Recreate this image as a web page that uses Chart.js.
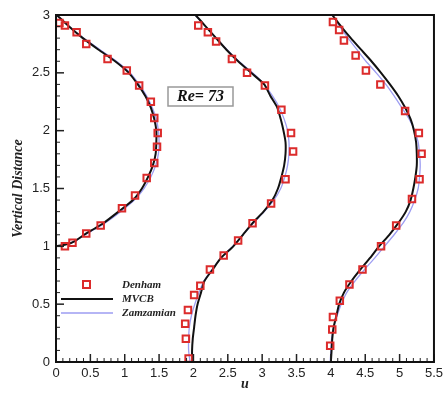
<!DOCTYPE html>
<html>
<head>
<meta charset="utf-8">
<script src="https://cdn.jsdelivr.net/npm/chart.js@4.4.1/dist/chart.umd.min.js"></script>
<style>
  html, body { margin: 0; padding: 0; background: #fff; }
  #wrap { position: relative; width: 447px; height: 393px; }
</style>
</head>
<body>
<div id="wrap"><canvas id="chart"></canvas></div>
<script>
// Denham (markers), three profiles
const denhamU1 = [0.05, 0.13, 0.30, 0.44, 0.75, 1.03, 1.21, 1.38, 1.43, 1.48, 1.47, 1.43, 1.32, 1.15, 0.96, 0.65, 0.44, 0.24, 0.13];
const denhamY1 = [2.93, 2.91, 2.85, 2.75, 2.62, 2.52, 2.39, 2.25, 2.11, 1.98, 1.86, 1.72, 1.59, 1.44, 1.33, 1.18, 1.11, 1.03, 1.00];
const denhamU2 = [2.07, 2.21, 2.33, 2.56, 2.78, 3.04, 3.28, 3.42, 3.45, 3.34, 3.13, 2.86, 2.65, 2.44, 2.24, 2.10, 2.01, 1.92, 1.88, 1.89, 1.93];
const denhamY2 = [2.91, 2.85, 2.77, 2.62, 2.50, 2.39, 2.18, 1.98, 1.82, 1.58, 1.37, 1.20, 1.05, 0.92, 0.80, 0.66, 0.58, 0.45, 0.33, 0.20, 0.03];
const denhamU3 = [4.03, 4.12, 4.19, 4.36, 4.51, 4.72, 5.08, 5.28, 5.32, 5.29, 5.18, 4.95, 4.73, 4.46, 4.27, 4.13, 4.03, 4.02, 3.99];
const denhamY3 = [2.94, 2.87, 2.78, 2.65, 2.52, 2.40, 2.17, 1.98, 1.80, 1.58, 1.41, 1.18, 1.00, 0.80, 0.67, 0.53, 0.39, 0.28, 0.14];

// MVCB and Zamzamian curves
const heights1 = [1.0, 1.02, 1.05, 1.1, 1.15, 1.2, 1.3, 1.4, 1.5, 1.6, 1.7, 1.8, 1.9, 2.0, 2.1, 2.2, 2.3, 2.4, 2.5, 2.6, 2.7, 2.8, 2.9, 3.0];
const mvcbU1 = [0, 0.17, 0.29, 0.41, 0.55, 0.69, 0.91, 1.12, 1.25, 1.34, 1.41, 1.45, 1.46, 1.46, 1.43, 1.38, 1.30, 1.19, 1.06, 0.86, 0.62, 0.39, 0.19, 0.01];
const zamU1  = [0, 0.16, 0.29, 0.42, 0.57, 0.71, 0.94, 1.14, 1.28, 1.38, 1.45, 1.49, 1.50, 1.49, 1.46, 1.40, 1.32, 1.21, 1.08, 0.88, 0.64, 0.40, 0.19, 0.01];

const heights = [0, 0.1, 0.2, 0.3, 0.4, 0.5, 0.6, 0.7, 0.8, 0.9, 1.0, 1.1, 1.2, 1.3, 1.4, 1.5, 1.6, 1.7, 1.8, 1.9, 2.0, 2.1, 2.2, 2.3, 2.4, 2.5, 2.6, 2.7, 2.8, 2.9, 3.0];
const mvcbU2 = [1.98, 1.98, 1.99, 2.01, 2.03, 2.06, 2.11, 2.16, 2.28, 2.40, 2.58, 2.72, 2.86, 3.02, 3.15, 3.23, 3.28, 3.32, 3.34, 3.34, 3.31, 3.27, 3.22, 3.12, 3.03, 2.84, 2.65, 2.48, 2.33, 2.18, 2.03];
const zamU2  = [1.95, 1.93, 1.93, 1.94, 1.97, 2.02, 2.08, 2.15, 2.27, 2.40, 2.57, 2.72, 2.87, 3.03, 3.17, 3.27, 3.33, 3.37, 3.39, 3.39, 3.37, 3.32, 3.25, 3.15, 3.03, 2.86, 2.66, 2.49, 2.33, 2.18, 2.02];
const mvcbU3 = [4.00, 4.01, 4.02, 4.04, 4.08, 4.12, 4.19, 4.30, 4.43, 4.57, 4.70, 4.85, 4.98, 5.09, 5.16, 5.20, 5.23, 5.25, 5.25, 5.24, 5.21, 5.16, 5.08, 4.98, 4.86, 4.73, 4.59, 4.44, 4.29, 4.15, 4.02];
const zamU3  = [3.99, 4.00, 4.01, 4.04, 4.09, 4.15, 4.23, 4.35, 4.49, 4.64, 4.78, 4.92, 5.05, 5.15, 5.22, 5.27, 5.29, 5.30, 5.29, 5.27, 5.22, 5.14, 5.03, 4.92, 4.80, 4.66, 4.51, 4.38, 4.25, 4.13, 4.02];

const xTicks = [0, 0.5, 1, 1.5, 2, 2.5, 3, 3.5, 4, 4.5, 5, 5.5];
const yTicks = [0, 0.5, 1, 1.5, 2, 2.5, 3];

const pts = (us, ys) => us.map((u, i) => ({ x: u, y: ys[i] }));

const markerStyle = {
  showLine: false,
  pointStyle: 'rect',
  pointRadius: 4.6,
  pointBorderWidth: 2,
  pointBorderColor: '#dc2b2b',
  pointBackgroundColor: 'rgba(0,0,0,0)',
  order: 0
};
const blackLine = { showLine: true, borderColor: '#111', borderWidth: 2, pointRadius: 0, tension: 0.2, order: 1 };
const blueLine = { showLine: true, borderColor: '#9d9df2', borderWidth: 1.3, pointRadius: 0, tension: 0.2, order: 2 };

// ticks inside the frame, legend and Re label
const decorations = {
  id: 'decorations',
  afterDraw(chart) {
    const { ctx, chartArea: a, scales: { x, y } } = chart;
    ctx.save();
    ctx.strokeStyle = '#222';
    for (let i = 0; i <= 55; i++) {
      const px = x.getPixelForValue(i / 10);
      const major = i % 5 === 0;
      ctx.lineWidth = major ? 1.5 : 1;
      ctx.beginPath();
      ctx.moveTo(px, a.bottom);
      ctx.lineTo(px, a.bottom - (major ? 8 : 4));
      ctx.stroke();
    }
    for (let i = 0; i <= 30; i++) {
      const py = y.getPixelForValue(i / 10);
      const major = i % 5 === 0;
      ctx.lineWidth = major ? 1.5 : 1;
      ctx.beginPath();
      ctx.moveTo(a.left, py);
      ctx.lineTo(a.left + (major ? 8 : 4), py);
      ctx.stroke();
    }
    ctx.lineWidth = 2;
    ctx.strokeStyle = '#111';
    ctx.strokeRect(a.left, a.top, a.right - a.left, a.bottom - a.top);

    // legend
    ctx.strokeStyle = '#dc2b2b';
    ctx.lineWidth = 2;
    ctx.strokeRect(83, 281, 7, 7);
    ctx.strokeStyle = '#111';
    ctx.lineWidth = 2;
    ctx.beginPath(); ctx.moveTo(61, 299); ctx.lineTo(113, 299); ctx.stroke();
    ctx.strokeStyle = '#9d9df2';
    ctx.lineWidth = 1.5;
    ctx.beginPath(); ctx.moveTo(61, 313); ctx.lineTo(113, 313); ctx.stroke();
    ctx.fillStyle = '#222';
    ctx.font = 'italic bold 11px "Liberation Serif"';
    ctx.textBaseline = 'middle';
    ctx.fillText('Denham', 122, 285);
    ctx.fillText('MVCB', 122, 299);
    ctx.fillText('Zamzamian', 122, 313);

    // Re box
    ctx.fillStyle = '#fff';
    ctx.fillRect(168, 87, 65, 19);
    ctx.strokeStyle = '#999';
    ctx.lineWidth = 1.5;
    ctx.strokeRect(168, 87, 65, 19);
    ctx.fillStyle = '#111';
    ctx.font = 'italic bold 16px "Liberation Serif"';
    ctx.textAlign = 'center';
    ctx.fillText('Re= 73', 200.5, 97);
    ctx.restore();
  }
};

new Chart(document.getElementById('chart'), {
  type: 'scatter',
  data: {
    datasets: [
      { label: 'Denham', data: pts(denhamU1, denhamY1), ...markerStyle },
      { label: 'Denham', data: pts(denhamU2, denhamY2), ...markerStyle },
      { label: 'Denham', data: pts(denhamU3, denhamY3), ...markerStyle },
      { label: 'MVCB', data: pts(mvcbU1, heights1), ...blackLine },
      { label: 'MVCB', data: pts(mvcbU2, heights), ...blackLine },
      { label: 'MVCB', data: pts(mvcbU3, heights), ...blackLine },
      { label: 'Zamzamian', data: pts(zamU1, heights1), ...blueLine },
      { label: 'Zamzamian', data: pts(zamU2, heights), ...blueLine },
      { label: 'Zamzamian', data: pts(zamU3, heights), ...blueLine }
    ]
  },
  options: {
    responsive: true,
    maintainAspectRatio: false,
    animation: false,
    layout: { padding: { left: 0, right: 10, top: 15, bottom: 0 } },
    plugins: { legend: { display: false }, tooltip: { enabled: false } },
    scales: {
      x: {
        type: 'linear',
        min: 0, max: 5.5,
        afterBuildTicks: s => { s.ticks = xTicks.map(v => ({ value: v })); },
        afterFit: s => { s.height = 31; },
        grid: { display: false, drawTicks: false },
        border: { display: false },
        ticks: { padding: 4, color: '#222', font: { family: '"Liberation Sans"', size: 13 }, maxRotation: 0, autoSkip: false,
                 callback: v => String(v) },
        title: { display: true, text: 'u', color: '#222', padding: { top: 0, bottom: 0 },
                 font: { family: '"Liberation Serif"', size: 14, style: 'italic', weight: 'bold' } }
      },
      y: {
        type: 'linear',
        min: 0, max: 3,
        afterBuildTicks: s => { s.ticks = yTicks.map(v => ({ value: v })); },
        afterFit: s => { s.width = 56; },
        grid: { display: false, drawTicks: false },
        border: { display: false },
        ticks: { padding: 6, color: '#222', font: { family: '"Liberation Sans"', size: 13 }, autoSkip: false,
                 callback: v => String(v) },
        title: { display: true, text: 'Vertical Distance', color: '#222', padding: { top: 10, bottom: 0 },
                 font: { family: '"Liberation Serif"', size: 14, style: 'italic', weight: 'bold' } }
      }
    }
  },
  plugins: [decorations]
});
</script>
</body>
</html>
